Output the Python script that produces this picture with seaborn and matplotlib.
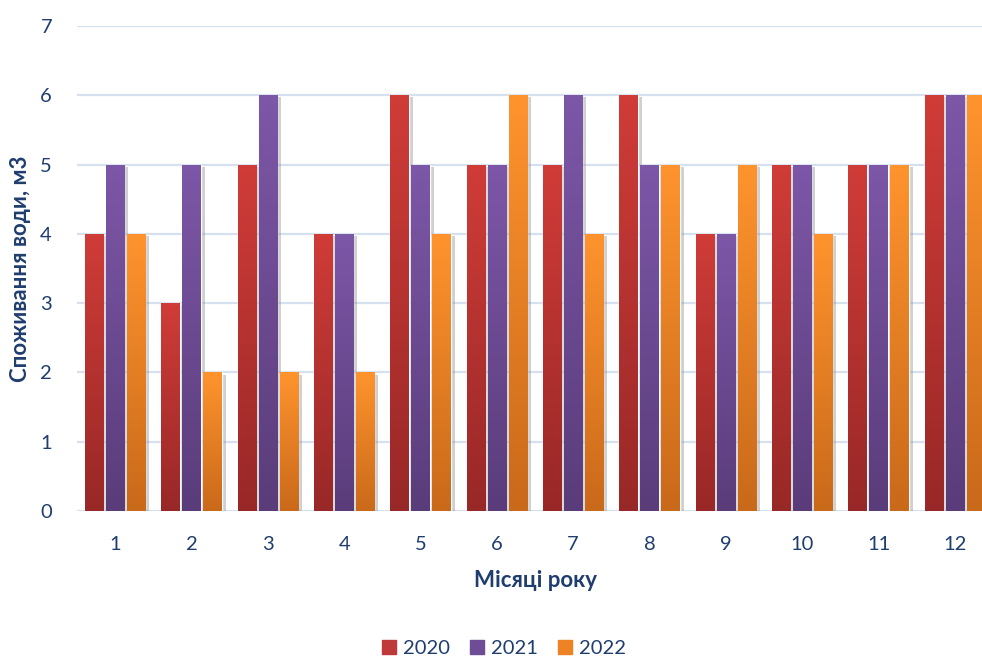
import numpy as np
import pandas as pd
import matplotlib
matplotlib.use("Agg")
import matplotlib.pyplot as plt
import matplotlib.patheffects as pe
from matplotlib.lines import Line2D
from matplotlib.colors import LinearSegmentedColormap
import seaborn as sns

# ---- data ----
months = [1, 2, 3, 4, 5, 6, 7, 8, 9, 10, 11, 12]
years = ["2020", "2021", "2022"]
y2020 = [4, 3, 5, 4, 6, 5, 5, 6, 4, 5, 5, 6]
y2021 = [5, 5, 6, 4, 5, 5, 6, 5, 4, 5, 5, 6]
y2022 = [4, 2, 2, 2, 4, 6, 4, 5, 5, 4, 5, 6]
y_ticks = [0, 1, 2, 3, 4, 5, 6, 7]
x_label = "Місяці року"
y_label = "Споживання води, м3"

# ---- styles ----
top_colors = ["#D03C38", "#7D57A8", "#FF942E"]
bot_colors = ["#982827", "#5A3C7A", "#C9691A"]
mid_colors = ["#C0393A", "#6E4C96", "#EE8326"]
text_color = "#1F3D6E"
grid_color = "#D6E1F0"

sns.set_theme(style="white")
plt.rcParams["font.family"] = ["Lato", "DejaVu Sans"]

df = pd.DataFrame({
    "month": [str(m) for m in months] * 3,
    "year": sum([[y] * len(months) for y in years], []),
    "value": y2020 + y2021 + y2022,
})

fig = plt.figure(figsize=(9.82, 6.56), dpi=100)
ax = fig.add_axes([77 / 982, 145 / 656, 916 / 982, 485 / 656])

sns.barplot(data=df, x="month", y="value", hue="year",
            palette=dict(zip(years, mid_colors)),
            width=0.825, gap=0.14, ax=ax, legend=False,
            errorbar=None, zorder=2)

ax.set_ylim(0, 7)
ax.set_xlim(-0.5, 11.5)

# gradient fill + soft shadow
for cont, ct, cb in zip(ax.containers, top_colors, bot_colors):
    cmap = LinearSegmentedColormap.from_list("g", [cb, ct])
    for p in cont.patches:
        p.set_path_effects([pe.SimplePatchShadow(offset=(3, -1.5),
                                                 shadow_rgbFace="#8A8A8A",
                                                 alpha=0.4),
                            pe.Normal()])
        x0 = p.get_x()
        w = p.get_width()
        h = p.get_height()
        grad = np.linspace(0, 1, 256).reshape(-1, 1)
        im = ax.imshow(grad, cmap=cmap, origin="lower", aspect="auto",
                       extent=[x0, x0 + w, 0, h], zorder=3,
                       interpolation="bilinear")
        im.set_clip_path(p)

ax.set_ylim(0, 7)
ax.set_xlim(-0.5, 11.5)
ax.set_yticks(y_ticks)
ax.yaxis.grid(True, color=grid_color, linewidth=1.6, zorder=0)
ax.set_axisbelow(True)
for s in ax.spines.values():
    s.set_visible(False)

ax.tick_params(axis="both", length=0, colors=text_color, labelsize=14.5)
ax.tick_params(axis="y", pad=18)
ax.tick_params(axis="x", pad=18)
ax.set_xlabel(x_label, fontsize=16, fontweight="bold", color=text_color,
              labelpad=12)
ax.set_ylabel(y_label, fontsize=16, fontweight="bold", color=text_color)
ax.yaxis.set_label_coords(-0.050, 0.5)

handles = [Line2D([], [], marker="s", linestyle="", markersize=10,
                  markerfacecolor=c, markeredgecolor=c) for c in mid_colors]
fig.legend(handles, years, loc="center", bbox_to_anchor=(503 / 982, 8 / 656),
           ncol=3, frameon=False, fontsize=14.5, labelcolor=text_color,
           handletextpad=0.25, columnspacing=0.9, handlelength=0.9)

fig.savefig("out.png", dpi=100)
